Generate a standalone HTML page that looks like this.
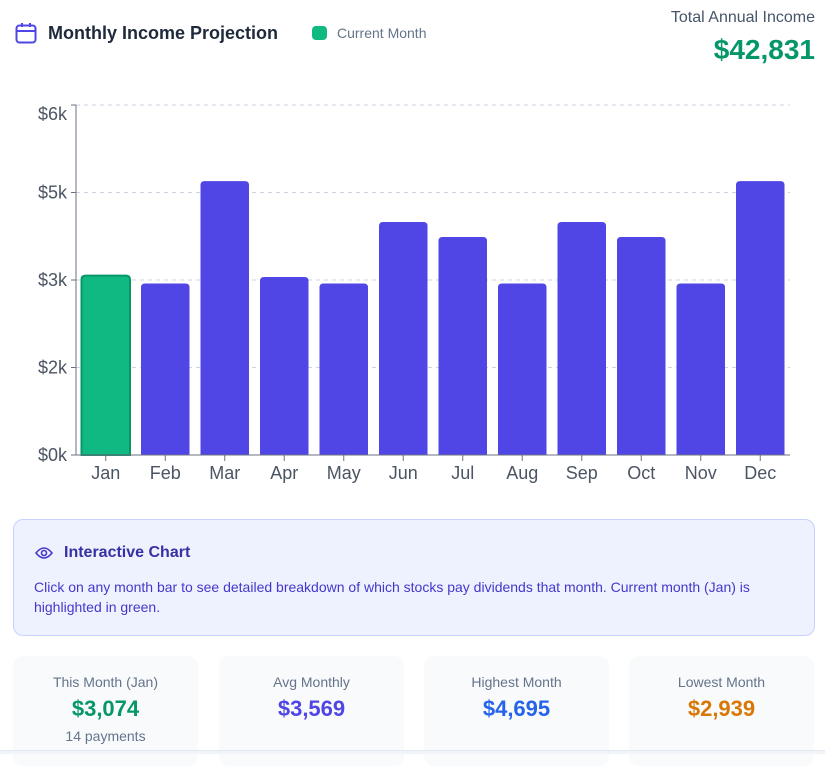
<!DOCTYPE html>
<html><head><meta charset="utf-8"><style>
*{box-sizing:border-box;margin:0;padding:0}
body{width:825px;height:754px;background:#fff;font-family:"Liberation Sans",sans-serif;position:relative;overflow:hidden}
.abs{position:absolute}
.card{position:absolute;top:656px;width:185px;height:110px;background:#f8fafc;border-radius:10px;text-align:center}
.card .l{font-size:14px;color:#64748b;margin-top:18px}
.card .v{font-size:22px;font-weight:bold;margin-top:6px}
.card .s{font-size:14px;color:#64748b;margin-top:6px}
</style></head><body>
<svg class="abs" style="left:15px;top:22px" width="22" height="22" viewBox="0 0 22 22"><rect x="1.5" y="3.5" width="19" height="17" rx="3" fill="none" stroke="#4f46e5" stroke-width="2"/><line x1="1.5" y1="9" x2="20.5" y2="9" stroke="#4f46e5" stroke-width="2"/><line x1="7" y1="1" x2="7" y2="5" stroke="#4f46e5" stroke-width="2"/><line x1="15" y1="1" x2="15" y2="5" stroke="#4f46e5" stroke-width="2"/></svg>
<div class="abs" style="left:48px;top:23px;font-size:18px;font-weight:bold;color:#1e293b">Monthly Income Projection</div>
<div class="abs" style="left:312px;top:26px;width:15px;height:14px;border-radius:4px;background:#10b981"></div>
<div class="abs" style="left:337px;top:25px;font-size:14px;color:#64748b">Current Month</div>
<div class="abs" style="right:10px;top:9px;font-size:16px;color:#475569">Total Annual Income</div>
<div class="abs" style="right:10px;top:34px;font-size:28px;font-weight:bold;color:#059669">$42,831</div>
<svg id="chart" class="abs" style="left:0;top:0" width="825" height="500"></svg>
<div class="abs" style="left:13px;top:519px;width:802px;height:117px;background:#eef2ff;border:1px solid #c7d2fe;border-radius:10px">
<svg class="abs" style="left:21px;top:26px" width="18" height="14" viewBox="0 0 18 14"><path d="M1 7 Q9 -3 17 7 Q9 17 1 7Z" fill="none" stroke="#4338ca" stroke-width="1.6"/><circle cx="9" cy="7" r="2.5" fill="none" stroke="#4338ca" stroke-width="1.6"/></svg>
<div class="abs" style="left:50px;top:24px;font-size:16px;font-weight:bold;color:#3730a3">Interactive Chart</div>
<div class="abs" style="left:20px;top:57px;width:750px;font-size:14px;line-height:20px;color:#4338ca">Click on any month bar to see detailed breakdown of which stocks pay dividends that month. Current month (Jan) is highlighted in green.</div>
</div>
<div class="card" style="left:13px"><div class="l">This Month (Jan)</div><div class="v" style="color:#059669">$3,074</div><div class="s">14 payments</div></div>
<div class="card" style="left:219px"><div class="l">Avg Monthly</div><div class="v" style="color:#4f46e5">$3,569</div></div>
<div class="card" style="left:424px"><div class="l">Highest Month</div><div class="v" style="color:#2563eb">$4,695</div></div>
<div class="card" style="left:629px"><div class="l">Lowest Month</div><div class="v" style="color:#d97706">$2,939</div></div>
<div class="abs" style="left:0;top:750px;width:825px;height:4px;background:#f1f5f9;border-top:1px solid #e2e8f0"></div>
<script>
const months=["Jan","Feb","Mar","Apr","May","Jun","Jul","Aug","Sep","Oct","Nov","Dec"];
const income=[3074,2939,4695,3051,2939,3994,3737,2939,3994,3737,2939,4695];
const tickValues=[0,1500,3000,4500,6000];
const svg=document.getElementById('chart');
const NS='http://www.w3.org/2000/svg';
const x0=76,x1=790,yTop=105,yBot=455,maxV=6000;
const y=v=>yBot-(v/maxV)*(yBot-yTop);
const band=(x1-x0)/months.length;
const xb=i=>x0+i*band;
function mk(t,a){const e=document.createElementNS(NS,t);for(const k in a)e.setAttribute(k,a[k]);svg.appendChild(e);return e;}
tickValues.forEach(v=>{
  if(v>0){const g=mk('line',{x1:x0,x2:x1,y1:y(v),y2:y(v),stroke:'#cbd5e1','stroke-dasharray':'4 4'});
  
  }
  const tk=mk('line',{x1:x0-5,x2:x0,y1:y(v),y2:y(v),stroke:'#6b7280'});
  
  
  const off=v===maxV?15:6;
  const t=mk('text',{x:x0-9,y:y(v)+off,'text-anchor':'end','font-size':18,fill:'#4b5563','font-family':'Liberation Sans'});
  t.textContent='$'+(v/1000).toFixed(0)+'k';
  
  
});
months.forEach((m,i)=>{
  const bx=xb(i)+5.5,bw=band-11,top=y(income[i]);
  const p=mk('path',{d:`M${bx},${yBot}V${top+4}Q${bx},${top} ${bx+4},${top}H${bx+bw-4}Q${bx+bw},${top} ${bx+bw},${top+4}V${yBot}Z`,fill:i===0?'#10b981':'#4f46e5',stroke:i===0?'#059669':'none','stroke-width':2,cursor:'pointer'});
  
  
  const tk=mk('line',{x1:xb(i)+band/2,x2:xb(i)+band/2,y1:yBot,y2:yBot+6,stroke:'#6b7280'});
  
  
  const t=mk('text',{x:xb(i)+band/2,y:yBot+24,'text-anchor':'middle','font-size':18,fill:'#4b5563','font-family':'Liberation Sans'});
  t.textContent=m;
  
  
});
const ya=mk('line',{x1:x0,x2:x0,y1:yTop,y2:yBot,stroke:'#6b7280'});


const xa=mk('line',{x1:x0,x2:x1,y1:yBot,y2:yBot,stroke:'#6b7280'});


</script>
</body></html>
